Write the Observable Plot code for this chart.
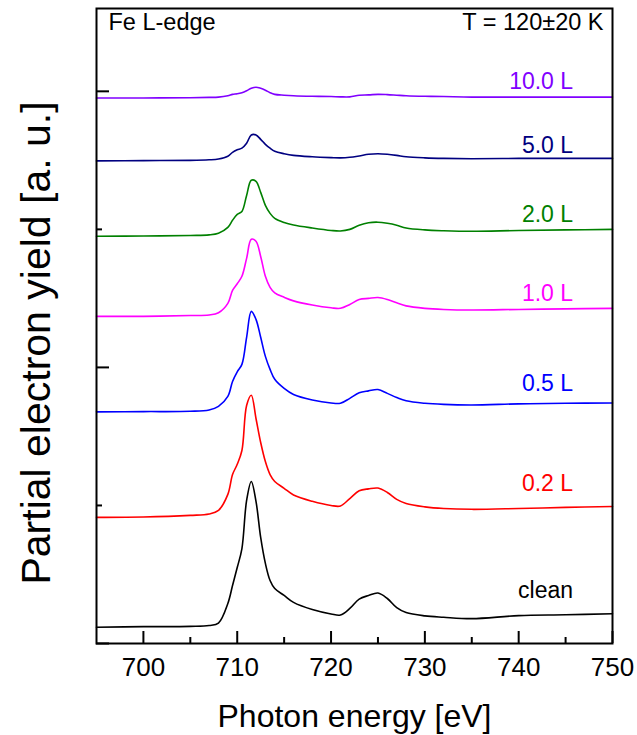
<!DOCTYPE html>
<html><head><meta charset="utf-8">
<script src="https://cdn.jsdelivr.net/npm/d3@7"></script>
<script src="https://cdn.jsdelivr.net/npm/@observablehq/plot@0.6"></script>
<style>body{margin:0;background:#fff}</style>
</head><body><div id="chart"></div>
<script>
// Photon energy grid [eV]
const energy = [695,700,705,707,708,709,709.5,710,710.5,711,711.5,712,712.5,713,713.5,714,715,716,718,720,721,722,723,724,725,726,727,728,730,732,735,740,745,750];
// Partial electron yield (offset stacked, a.u.)
const clean = [0.059,0.061,0.062,0.065,0.074,0.145,0.210,0.275,0.344,0.518,0.587,0.515,0.384,0.290,0.228,0.199,0.174,0.149,0.123,0.107,0.103,0.127,0.161,0.174,0.183,0.163,0.130,0.112,0.100,0.095,0.090,0.101,0.104,0.108];
const l02 = [0.457,0.458,0.464,0.469,0.482,0.540,0.612,0.649,0.699,0.862,0.899,0.815,0.728,0.659,0.612,0.587,0.562,0.538,0.515,0.500,0.498,0.525,0.553,0.560,0.563,0.547,0.522,0.507,0.495,0.489,0.486,0.489,0.493,0.496];
const l05 = [0.839,0.840,0.841,0.846,0.859,0.895,0.949,0.984,1.011,1.109,1.203,1.174,1.109,1.040,0.993,0.957,0.924,0.902,0.882,0.871,0.870,0.888,0.908,0.915,0.920,0.906,0.891,0.879,0.870,0.866,0.864,0.868,0.870,0.871];
const l10 = [1.185,1.185,1.188,1.190,1.198,1.232,1.279,1.303,1.330,1.395,1.464,1.457,1.402,1.330,1.290,1.270,1.254,1.241,1.226,1.216,1.214,1.228,1.246,1.250,1.253,1.246,1.234,1.223,1.214,1.210,1.208,1.210,1.212,1.214];
const l20 = [1.475,1.476,1.478,1.480,1.486,1.507,1.533,1.554,1.565,1.623,1.678,1.674,1.634,1.587,1.558,1.540,1.525,1.516,1.505,1.496,1.494,1.500,1.515,1.524,1.526,1.522,1.515,1.505,1.498,1.495,1.493,1.496,1.498,1.500];
const l50 = [1.748,1.749,1.750,1.752,1.755,1.765,1.779,1.788,1.794,1.812,1.842,1.842,1.826,1.808,1.794,1.783,1.774,1.768,1.763,1.760,1.759,1.761,1.766,1.772,1.774,1.772,1.768,1.763,1.759,1.757,1.756,1.757,1.757,1.757];
const l100 = [1.976,1.976,1.977,1.978,1.979,1.984,1.989,1.991,1.995,2.002,2.011,2.015,2.011,2.004,1.995,1.989,1.986,1.984,1.982,1.981,1.980,1.980,1.986,1.987,1.989,1.988,1.986,1.984,1.982,1.981,1.979,1.979,1.979,1.979];

const seriesNames = ["clean","0.2 L","0.5 L","1.0 L","2.0 L","5.0 L","10.0 L"];
const seriesValues = [clean,l02,l05,l10,l20,l50,l100];
const seriesColors = ["#000000","#ff0000","#0000ff","#ff00ff","#008000","#000080","#8000ff"];

const xTicks = [700,710,720,730,740,750];
const xMinorTicks = [705,715,725,735,745];
const yTicks = [0,1,2];
const yMinorTicks = [0.5,1.5];
const xDomain = [695,750];
const yDomain = [0,2.3];
const labelEnergy = 745.8;

const title = "Fe L-edge";
const tempLabel = "T = 120±20 K";
const xLabel = "Photon energy [eV]";
const yLabel = "Partial electron yield [a. u.]";

// ---- build ----
const W = 637, H = 735;
const mL = 96, mR = 25, mT = 8, mB = 92;
const innerW = W - mL - mR, innerH = H - mT - mB;

const rows = [];
seriesNames.forEach((s, k) => energy.forEach((e, i) => rows.push({series: s, e, v: seriesValues[k][i]})));

const labelDy = [-23, -23, -19, -15, -15, -13, -15];
const labelMarks = seriesNames.map((s, k) => Plot.text([s], {
  x: () => labelEnergy,
  y: () => seriesValues[k][seriesValues[k].length - 1],
  text: d => d, textAnchor: "end", lineAnchor: "middle",
  dy: labelDy[k], fill: seriesColors[k], fontSize: 23
}));

const chart = Plot.plot({
  width: W, height: H,
  marginLeft: mL, marginRight: mR, marginTop: mT, marginBottom: mB,
  style: {fontFamily: "'Liberation Sans', Arial, sans-serif", background: "#fff", color: "#000"},
  x: {domain: xDomain, axis: null},
  y: {domain: yDomain, axis: null},
  color: {domain: seriesNames, range: seriesColors},
  marks: [
    Plot.line(rows, {x: "e", y: "v", z: "series", stroke: "series", strokeWidth: 1.6, curve: "catmull-rom"}),
    Plot.tickX(xTicks, {x: d => d, insetTop: innerH - 12, strokeWidth: 2, stroke: "#000"}),
    Plot.tickX(xMinorTicks, {x: d => d, insetTop: innerH - 6, strokeWidth: 2, stroke: "#000"}),
    Plot.tickY(yTicks, {y: d => d, insetRight: innerW - 13, strokeWidth: 2, stroke: "#000"}),
    Plot.tickY(yMinorTicks, {y: d => d, insetRight: innerW - 6, strokeWidth: 2, stroke: "#000"}),
    Plot.frame({stroke: "#000", strokeWidth: 2}),
    Plot.axisX(xTicks, {tickSize: 0, tickPadding: 14, fontSize: 26, label: null, tickFormat: d => String(d)}),
    ...labelMarks,
    Plot.text([title], {frameAnchor: "top-left", dx: 12, dy: 5, lineAnchor: "top", textAnchor: "start", fontSize: 23.5, fill: "#000"}),
    Plot.text([tempLabel], {frameAnchor: "top-right", dx: -9, dy: 5, lineAnchor: "top", textAnchor: "end", fontSize: 23.5, fill: "#000"}),
    Plot.text([xLabel], {frameAnchor: "bottom", dy: 61, lineAnchor: "top", textAnchor: "middle", fontSize: 32, fill: "#000"}),
    Plot.text([yLabel], {frameAnchor: "left", dx: -60, dy: 17, rotate: -90, lineAnchor: "middle", textAnchor: "middle", fontSize: 41, fill: "#000"})
  ]
});
document.getElementById("chart").appendChild(chart);
</script>
</body></html>
